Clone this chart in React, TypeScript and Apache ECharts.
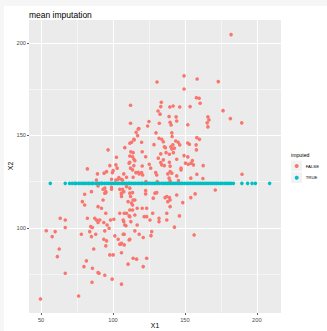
import React, { useEffect, useRef } from "react";
import * as echarts from "echarts";

const TITLE = "mean imputation";
const X_NAME = "X1";
const Y_NAME = "X2";
const X_TICKS = [50, 100, 150, 200];
const Y_TICKS = [100, 150, 200];
const LEGEND_TITLE = "imputed";
const GROUPS = ["FALSE", "TRUE"];

// observed (not imputed) points: [X1, X2]
const observed: [number, number][] = [
  [182.1, 204.5], [149.4, 182.2], [130.6, 178.9], [158.5, 180.5], [173.2, 179.1], [149.4, 175.1],
  [158, 170.4], [159.9, 170.1], [160.6, 167.4], [133.6, 167.9], [133.2, 165.6], [131.3, 163.2],
  [132.7, 161.5], [139.5, 165.4], [141.8, 165.9], [146.4, 165.4], [153.6, 165.6], [139, 160.2],
  [143.9, 160], [144.3, 157.8], [139.7, 157.1], [140.4, 155.7], [176.5, 163.4], [181.6, 159.1],
  [189.5, 156.8], [166, 160], [166.7, 158.4], [165.5, 156.8], [166, 154.6], [152, 155.8],
  [124.1, 155.1], [125, 157.5], [118, 153.7], [116.1, 151.7], [117.1, 149.9], [112.2, 166.3],
  [112.2, 156.6], [132.2, 156.6], [129.9, 151.4], [132, 148.5], [133.9, 147.9], [135, 146.6],
  [140.9, 151.4], [141.1, 149.4], [143.6, 147], [145.3, 146.3], [146.4, 144.9], [152, 145.9],
  [153.1, 145.2], [158.3, 148.8], [160.1, 147.9], [157.8, 144.9], [158, 142.2], [128.5, 145],
  [135.7, 143.9], [136.4, 143.4], [140.2, 143.9], [141.6, 144.9], [140.9, 142.7], [142.7, 143.1],
  [142, 140.7], [112.9, 146.3], [114.5, 147.9], [112.4, 141.2], [120.3, 141.2], [122.7, 138.5],
  [133.2, 140], [136.9, 140.7], [139.2, 139.8], [149.4, 139.1], [152, 138.4], [155.2, 136.4],
  [154.3, 135], [155.9, 134.1], [152.4, 134.4], [150.4, 135], [114.5, 137.1], [120.3, 133.5],
  [125.2, 134.4], [126.2, 132.3], [131.5, 137.7], [133.2, 135.3], [135, 136.8], [133.9, 134.1],
  [135.7, 133.7], [139.2, 135.5], [139.7, 133.4], [144.3, 137.1], [147.3, 132.3], [162.7, 133.7],
  [114.5, 133.7], [114, 127.4], [119.9, 129.9], [120.6, 128.6], [118.2, 129.2], [115.9, 129.9],
  [129.7, 129.9], [130.4, 128.6], [139.7, 130.4], [139, 126.9], [139.7, 125.4], [140.9, 129.6],
  [138.1, 129.2], [144.3, 128.1], [145.5, 125.6], [147.3, 131.4], [154.1, 126.9], [158.3, 129],
  [162.5, 126.7], [189.7, 129], [122.9, 125], [130.8, 125], [171.1, 120.5], [157.1, 118.4],
  [154.1, 116.4], [148.5, 113.7], [146.2, 106.5], [142.7, 100.4], [156.4, 96.2], [144.3, 117.8],
  [137.4, 117], [139.7, 115.1], [139.2, 116.4], [138.1, 114.2], [139.7, 111.5], [136.2, 116.4],
  [137.4, 107.9], [137.4, 104.3], [132, 105.2], [132, 103.4], [129.2, 118.8], [128, 116.1],
  [130.4, 119.1], [122.7, 120.2], [122.7, 118.4], [127.6, 107.9], [125.7, 104.3], [123.4, 106.1],
  [121.7, 106.1], [120.3, 110.6], [116.8, 110.6], [123.4, 110.6], [111.7, 109.7], [113.6, 109.7],
  [116.8, 101.6], [126.9, 98], [126.4, 95.8], [115.2, 98.4], [118.2, 96.6], [121, 94.8],
  [111.7, 93.9], [114, 83.6], [116.4, 83.1], [123.4, 83.6], [121, 79.1], [111.7, 121.5],
  [113.6, 119.1], [112.2, 117], [114, 115.1], [115.2, 115.1], [112.9, 113.4], [111.7, 106.1],
  [115.2, 107], [112.4, 103.4], [80.3, 118.2], [85, 119.6], [93.1, 120.9], [95, 119.6],
  [94.3, 118.8], [99, 120.9], [105.9, 118.8], [106.6, 120.9], [89.6, 122.7], [78.7, 114.2],
  [80.3, 112.4], [89.6, 111.5], [92, 110.6], [93.1, 115.1], [95, 107.9], [104.7, 107.9],
  [107.8, 107.9], [63.3, 105.2], [66.8, 104.3], [82.2, 105.2], [87.3, 105.2], [88.5, 104.3],
  [89.6, 102.9], [90.8, 104.3], [93.6, 102.9], [95.9, 101.6], [98.3, 104.3], [100.6, 104.7],
  [84.5, 100.7], [85.7, 100.2], [83.8, 98], [66.8, 100.2], [59.8, 98], [53.6, 98.5],
  [57.7, 95.3], [78, 96.6], [88, 96.6], [85, 95.3], [94.3, 98.4], [97.3, 99.8],
  [93.6, 93.9], [95.5, 93], [95, 90.3], [101.3, 95.7], [103.6, 93.9], [104.7, 91.2],
  [105.9, 91.7], [107.8, 96.6], [62.6, 88.6], [86.6, 88.6], [97.8, 85.4], [100.1, 85.4],
  [105.9, 86.6], [61.3, 84.5], [81.5, 82.2], [79.8, 79.1], [85.7, 78.2], [66.8, 75.5],
  [89.6, 75.8], [90.3, 75.5], [94.3, 74.4], [99.4, 72.3], [85.4, 70.6], [105.9, 69.6],
  [76.1, 63.2], [49.6, 61.6], [107.5, 103.4], [107.8, 90.8], [96.6, 142.2], [102.4, 138.2],
  [111.7, 138.9], [115.2, 136.4], [82.2, 131.9], [97.8, 133.7], [102, 134.1], [102.9, 132.3],
  [100.1, 131], [111.7, 135.5], [113.6, 131.4], [112.2, 132.3], [117.5, 130.1], [89.2, 129.2],
  [93.8, 129.6], [95.5, 130.4], [99.6, 129.9], [107.5, 129.2], [103.6, 126.3], [102, 125.9],
  [99, 126.3], [105.9, 126.3], [88.5, 125.9], [94.3, 121.5], [99, 122], [95, 119.1],
  [104.7, 120.9], [105.9, 118.4], [109.4, 122.3], [108.2, 143.4], [104.1, 127.2], [106.6, 125.9],
  [117.5, 153.5], [114.7, 147.6], [111.7, 145.8], [113.6, 138.5], [114, 140.7], [119.9, 146.3],
  [111.2, 93.5], [107.1, 96.6], [105.4, 91.2], [110.5, 80.4], [109, 101.2], [111.2, 135],
  [109.4, 127.4], [105.9, 117], [107.5, 119.6], [111.7, 118.8], [110.5, 114.2], [113.6, 112.4],
  [109.4, 107.9], [107.1, 104.3], [111.2, 106.5], [108.2, 101.6],
];

// imputed points: X1 values, X2 replaced by the observed mean
const imputedX1 = [
  56.4, 66.8, 69.8, 71.6, 73.3, 74.2, 76.0, 77.3, 78.9, 80.1, 81.4, 82.8, 84.0, 85.5, 86.2, 87.9,
  89.1, 90.4, 91.8, 92.5, 94.0, 95.3, 96.7, 97.9, 99.2, 100.6, 101.4, 102.9, 104.1, 105.6, 106.8,
  108.0, 109.3, 110.7, 111.5, 112.8, 114.2, 115.4, 116.9, 118.1, 119.6, 120.3, 121.8, 123.0, 124.5,
  125.7, 127.1, 128.4, 129.6, 131.0, 132.3, 133.8, 135.1, 136.4, 137.7, 139.0, 140.5, 141.8, 143.2,
  144.6, 145.9, 147.3, 148.5, 150.0, 151.4, 152.7, 154.1, 155.6, 156.8, 158.2, 159.7, 161.0, 162.4,
  163.9, 165.2, 166.5, 168.0, 169.4, 170.8, 172.1, 173.5, 175.0, 176.2, 177.8, 179.1, 180.6, 182.0,
  183.7, 189.6, 193.6, 196.7, 199.0, 208.9,
];
const MEAN_X2 = 124.1;

const X_RANGE = [41.6, 216.8];
const Y_RANGE = [54, 212.4];

const FONT = "'Liberation Sans', Arial, sans-serif";
const RED = "#F8766D";
const TEAL = "#00BFC4";

export default function App() {
  const ref = useRef<HTMLDivElement>(null);
  useEffect(() => {
    document.body.style.margin = "0";
    const chart = echarts.init(ref.current!, null, { renderer: "svg" });
    const axisCommon = {
      axisLine: { show: false },
      splitLine: { show: true, lineStyle: { color: "#FFFFFF", width: 1.1 } },
      minorTick: { show: false, splitNumber: 2 },
      minorSplitLine: { show: true, lineStyle: { color: "#FFFFFF", width: 0.5 } },
    };
    const tickStyle = { show: true, length: 2, lineStyle: { color: "#333333", width: 0.8 } };
    const labelStyle = { fontFamily: FONT, fontSize: 5.7, color: "#4D4D4D" };
    chart.setOption({
      animation: false,
      backgroundColor: "#FFFFFF",
      title: {
        text: TITLE,
        left: 25,
        top: 4,
        padding: 0,
        textStyle: { fontFamily: FONT, fontSize: 8.5, fontWeight: "normal", color: "#000000" },
      },
      grid: {
        left: 25,
        right: 46,
        top: 14,
        bottom: 18,
        outerBoundsMode: "none",
        containLabel: false,
        show: true,
        backgroundColor: "#EBEBEB",
        borderWidth: 0,
      },
      xAxis: {
        ...axisCommon,
        type: "value",
        min: X_RANGE[0],
        max: X_RANGE[1],
        minInterval: 50,
        maxInterval: 50,
        axisTick: { ...tickStyle, customValues: X_TICKS },
        axisLabel: { ...labelStyle, customValues: X_TICKS, margin: 4 },
      },
      yAxis: {
        ...axisCommon,
        type: "value",
        min: Y_RANGE[0],
        max: Y_RANGE[1],
        minInterval: 50,
        maxInterval: 50,
        axisTick: { ...tickStyle, customValues: Y_TICKS },
        axisLabel: { ...labelStyle, customValues: Y_TICKS, margin: 3 },
      },
      legend: {
        orient: "vertical",
        left: 290.7,
        top: 155,
        padding: 0,
        itemGap: 1.7,
        icon: "circle",
        itemWidth: 4,
        itemHeight: 4,
        data: GROUPS,
        textStyle: { fontFamily: FONT, fontSize: 4.3, color: "#000000", lineHeight: 10, padding: [0, 0, 0, 2] },
      },
      graphic: [
        { type: "rect", left: 287, top: 154.5, shape: { width: 11, height: 10.8 }, style: { fill: "#F2F2F2" }, z: -1 },
        { type: "rect", left: 287, top: 166.2, shape: { width: 11, height: 10.8 }, style: { fill: "#F2F2F2" }, z: -1 },
        {
          type: "text",
          left: 287,
          top: 146,
          style: { text: LEGEND_TITLE, font: `5.2px ${FONT}`, fill: "#000000" },
        },
        {
          type: "text",
          x: 151,
          y: 319,
          style: { text: X_NAME, font: `6.8px ${FONT}`, fill: "#000000", align: "center", verticalAlign: "middle" },
        },
        {
          type: "text",
          x: 6,
          y: 160,
          rotation: Math.PI / 2,
          style: { text: Y_NAME, font: `6.8px ${FONT}`, fill: "#000000", align: "center", verticalAlign: "middle" },
        },
      ],
      series: [
        {
          name: GROUPS[0],
          type: "scatter",
          symbolSize: 3.6,
          itemStyle: { color: RED, opacity: 1 },
          data: observed,
        },
        {
          name: GROUPS[1],
          type: "scatter",
          symbolSize: 3.6,
          itemStyle: { color: TEAL, opacity: 1 },
          data: imputedX1.map((x) => [x, MEAN_X2]),
        },
      ],
    });
    return () => chart.dispose();
  }, []);
  return (
    <div style={{ width: 327, height: 331, background: "#F6F6F6", position: "relative" }}>
      <div
        ref={ref}
        style={{ position: "absolute", left: 4, top: 6, width: 323, height: 325, background: "#FFFFFF" }}
      />
    </div>
  );
}
